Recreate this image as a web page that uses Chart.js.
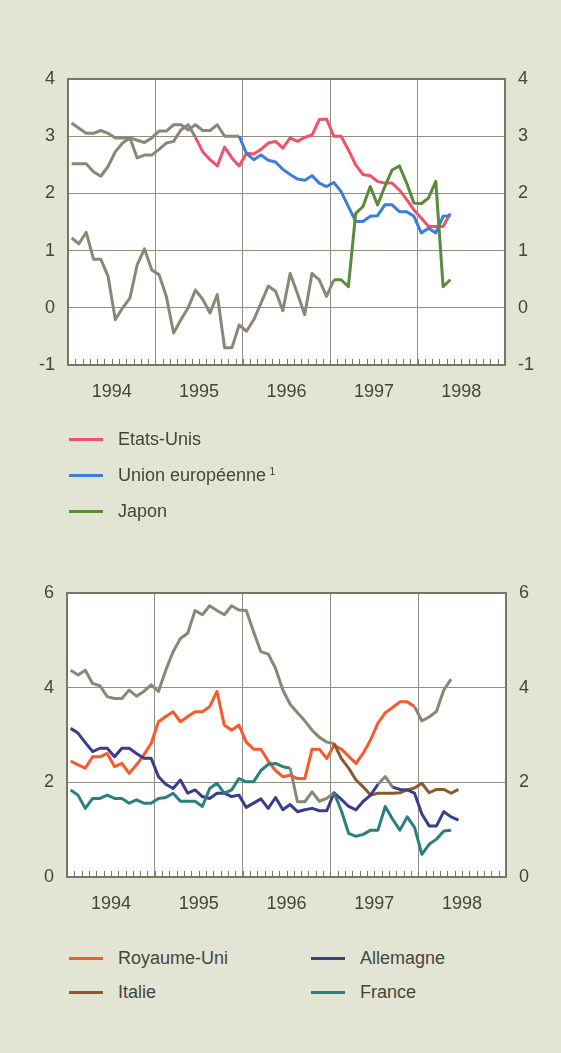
<!DOCTYPE html>
<html lang="fr">
<head>
<meta charset="utf-8">
<title>Inflation</title>
<script src="https://cdn.jsdelivr.net/npm/chart.js@4.4.1/dist/chart.umd.min.js"></script>
<style>
  html, body { margin: 0; padding: 0; }
  body {
    width: 561px; height: 1053px; position: relative; overflow: hidden;
    background: #e2e5d3;
    font-family: "Liberation Sans", Arial, sans-serif; color: #45453d;
  }
  .chart-box { position: absolute; left: 0; width: 561px; height: 420px; }
  .legend-item { position: absolute; height: 20px; font-size: 18px; line-height: 20px; white-space: nowrap; }
  .legend-item .swatch { position: absolute; left: 0; top: 9px; width: 34px; height: 3px; }
  .legend-item .txt { position: absolute; left: 49px; top: 0; }
  .legend-item sup { font-size: 11px; vertical-align: 6px; line-height: 0; margin-left: 3px; }
</style>
</head>
<body>

<div class="chart-box" style="top:0"><canvas id="topChart" width="561" height="420"></canvas></div>
<div class="chart-box" style="top:520px"><canvas id="bottomChart" width="561" height="420"></canvas></div>

<div class="legend-item" style="left:69px; top:429px"><span class="swatch" style="background:#f2506b"></span><span class="txt">Etats-Unis</span></div>
<div class="legend-item" style="left:69px; top:465px"><span class="swatch" style="background:#3d7ed8"></span><span class="txt">Union européenne<sup>1</sup></span></div>
<div class="legend-item" style="left:69px; top:501px"><span class="swatch" style="background:#5b8a3c"></span><span class="txt">Japon</span></div>

<div class="legend-item" style="left:69px; top:948px"><span class="swatch" style="background:#f85a2c"></span><span class="txt">Royaume-Uni</span></div>
<div class="legend-item" style="left:69px; top:982px"><span class="swatch" style="background:#8a5a2e"></span><span class="txt">Italie</span></div>
<div class="legend-item" style="left:311px; top:948px"><span class="swatch" style="background:#3a3d8c"></span><span class="txt">Allemagne</span></div>
<div class="legend-item" style="left:311px; top:982px"><span class="swatch" style="background:#2b7f7c"></span><span class="txt">France</span></div>

<script>
// Monthly values from January 1994, one point per month

const years = ['1994', '1995', '1996', '1997', '1998'];

// top panel
const etatsUnis = [2.52, 2.52, 2.52, 2.38, 2.3, 2.47, 2.73, 2.88, 2.97, 2.62, 2.67, 2.67,
    2.77, 2.88, 2.91, 3.11, 3.2, 2.98, 2.73, 2.59, 2.48, 2.81, 2.62, 2.48,
    2.7, 2.69, 2.77, 2.88, 2.91, 2.79, 2.97, 2.91, 2.98, 3.02, 3.29, 3.3,
    3.0, 3.0, 2.76, 2.5, 2.33, 2.31, 2.21, 2.18, 2.18, 2.06, 1.89, 1.71,
    1.57, 1.42, 1.42, 1.42, 1.65];
const unionEuropeenne = [3.23, 3.14, 3.05, 3.05, 3.1, 3.05, 2.97, 2.97, 2.97, 2.93, 2.89, 2.97,
    3.09, 3.09, 3.2, 3.2, 3.11, 3.2, 3.1, 3.1, 3.2, 3.0, 3.0, 3.0,
    2.7, 2.59, 2.67, 2.58, 2.55, 2.42, 2.33, 2.25, 2.23, 2.31, 2.18, 2.12,
    2.19, 2.03, 1.77, 1.51, 1.51, 1.6, 1.61, 1.8, 1.8, 1.68, 1.68, 1.6,
    1.31, 1.39, 1.31, 1.6, 1.61];
const japon = [1.22, 1.12, 1.32, 0.85, 0.85, 0.55, -0.21, 0.0, 0.17, 0.75, 1.03, 0.66,
    0.58, 0.2, -0.44, -0.21, 0.0, 0.31, 0.15, -0.09, 0.23, -0.7, -0.7, -0.3,
    -0.41, -0.21, 0.08, 0.38, 0.29, -0.05, 0.6, 0.25, -0.12, 0.6, 0.49, 0.2,
    0.49, 0.49, 0.37, 1.65, 1.77, 2.12, 1.8, 2.12, 2.41, 2.48, 2.18, 1.83,
    1.82, 1.92, 2.21, 0.37, 0.49];

// bottom panel
const royaumeUni = [2.45, 2.37, 2.3, 2.54, 2.54, 2.61, 2.33, 2.4, 2.19, 2.37, 2.58, 2.82,
    3.28, 3.39, 3.49, 3.28, 3.39, 3.49, 3.49, 3.6, 3.92, 3.21, 3.1, 3.21,
    2.85, 2.7, 2.7, 2.45, 2.25, 2.12, 2.15, 2.08, 2.08, 2.7, 2.7, 2.5,
    2.79, 2.7, 2.55, 2.4, 2.62, 2.9, 3.25, 3.47, 3.58, 3.7, 3.7, 3.6,
    3.3, 3.38, 3.5, 3.95, 4.18];
const italie = [4.37, 4.27, 4.37, 4.09, 4.04, 3.81, 3.77, 3.77, 3.95, 3.82, 3.92, 4.06,
    3.92, 4.37, 4.76, 5.04, 5.15, 5.63, 5.54, 5.73, 5.63, 5.54, 5.73, 5.64,
    5.63, 5.18, 4.76, 4.71, 4.41, 3.95, 3.65, 3.47, 3.3, 3.1, 2.95, 2.85,
    2.82, 2.5, 2.3, 2.05, 1.9, 1.73, 1.77, 1.77, 1.77, 1.78, 1.84, 1.88,
    1.98, 1.78, 1.85, 1.85, 1.77, 1.85];
const allemagne = [3.14, 3.04, 2.84, 2.65, 2.72, 2.72, 2.54, 2.72, 2.72, 2.61, 2.51, 2.51,
    2.12, 1.96, 1.87, 2.05, 1.77, 1.84, 1.7, 1.66, 1.77, 1.77, 1.7, 1.73,
    1.47, 1.56, 1.65, 1.45, 1.68, 1.42, 1.53, 1.38, 1.42, 1.45, 1.4, 1.4,
    1.78, 1.64, 1.49, 1.42, 1.6, 1.73, 1.96, 2.12, 1.9, 1.85, 1.84, 1.77,
    1.33, 1.08, 1.08, 1.38, 1.27, 1.2];
const france = [1.84, 1.73, 1.45, 1.66, 1.66, 1.73, 1.66, 1.66, 1.56, 1.63, 1.56, 1.56,
    1.66, 1.68, 1.77, 1.6, 1.6, 1.6, 1.49, 1.87, 1.98, 1.77, 1.84, 2.08,
    2.01, 2.01, 2.25, 2.38, 2.4, 2.33, 2.3, 1.59, 1.59, 1.8, 1.6, 1.66,
    1.78, 1.4, 0.92, 0.86, 0.9, 0.99, 0.99, 1.49, 1.22, 0.99, 1.27, 1.05,
    0.48, 0.69, 0.8, 0.97, 0.99];

// stretches drawn in grey: [first segment, end segment)
const greyEtatsUnis = [0, 17];
const greyUnionEuropeenne = [0, 23];
const greyJapon = [0, 36];
const greyRoyaumeUni = [47, 60];
const greyItalie = [0, 36];
const greyAllemagne = [42, 44];
const greyFrance = [30, 36];

const GREY = '#8b8676';
const GRID = '#938f80';
const FRAME = '#7a7565';
const TEXT = '#45453d';
const FONT = { family: '"Liberation Sans", Arial, sans-serif', size: 18 };

function toPoints(values) {
    return values.map((v, i) => ({ x: i + 0.5, y: v }));
}

function makeDataset(label, values, color, grey) {
    return {
        label: label,
        data: toPoints(values),
        borderColor: color,
        borderWidth: 3,
        pointRadius: 0,
        tension: 0,
        borderJoinStyle: 'round',
        segment: {
            borderColor: ctx => (ctx.p0DataIndex >= grey[0] && ctx.p0DataIndex < grey[1]) ? GREY : color
        }
    };
}

// white plot, frame and the small monthly ticks along the bottom
const plotFrame = {
    id: 'plotFrame',
    beforeDraw(chart) {
        const { ctx, chartArea: a } = chart;
        ctx.save();
        ctx.fillStyle = '#ffffff';
        ctx.fillRect(a.left, a.top, a.right - a.left, a.bottom - a.top);
        ctx.restore();
    },
    afterDraw(chart) {
        const { ctx, chartArea: a } = chart;
        const xs = chart.scales.x;
        ctx.save();
        ctx.strokeStyle = FRAME;
        ctx.lineWidth = 1;
        for (let m = 1; m < 60; m++) {
            const px = Math.round(xs.getPixelForValue(m)) + 0.5;
            ctx.beginPath();
            ctx.moveTo(px, a.bottom);
            ctx.lineTo(px, a.bottom - 6);
            ctx.stroke();
        }
        ctx.lineWidth = 2;
        ctx.strokeRect(a.left, a.top, a.right - a.left, a.bottom - a.top);
        ctx.restore();
    }
};

function buildOptions(yMin, yMax, step, padTop, leftW, rightW, xH) {
    const yTicks = { stepSize: step, padding: 13, color: TEXT, font: FONT };
    return {
        responsive: false,
        animation: false,
        layout: { padding: { top: padTop, left: 0, right: 0, bottom: 0 } },
        plugins: { legend: { display: false }, tooltip: { enabled: false } },
        scales: {
            x: {
                type: 'linear',
                min: 0,
                max: 60,
                afterBuildTicks: s => {
                    s.ticks = [];
                    for (let v = 0; v <= 60; v += 6) s.ticks.push({ value: v });
                },
                afterFit: s => { s.height = xH; },
                grid: {
                    drawTicks: false,
                    lineWidth: 1,
                    color: c => (c.tick && c.tick.value % 12 === 0 && c.tick.value > 0 && c.tick.value < 60) ? GRID : 'rgba(0,0,0,0)'
                },
                border: { display: false },
                ticks: {
                    autoSkip: false,
                    maxRotation: 0,
                    padding: 16,
                    color: TEXT,
                    font: FONT,
                    callback: v => (v % 12 === 6 ? years[(v - 6) / 12] : '')
                }
            },
            y: {
                position: 'left',
                min: yMin,
                max: yMax,
                afterFit: s => { s.width = leftW; },
                grid: { drawTicks: false, color: GRID, lineWidth: 1 },
                border: { display: false },
                ticks: yTicks
            },
            y2: {
                position: 'right',
                min: yMin,
                max: yMax,
                afterFit: s => { s.width = rightW; },
                grid: { display: false, drawTicks: false },
                border: { display: false },
                ticks: yTicks
            }
        }
    };
}

new Chart(document.getElementById('topChart'), {
    type: 'line',
    data: {
        datasets: [
            makeDataset('Japon', japon, '#5b8a3c', greyJapon),
            makeDataset('Union européenne', unionEuropeenne, '#3d7ed8', greyUnionEuropeenne),
            makeDataset('Etats-Unis', etatsUnis, '#f2506b', greyEtatsUnis)
        ]
    },
    options: buildOptions(-1, 4, 1, 79, 68, 56, 55),
    plugins: [plotFrame]
});

new Chart(document.getElementById('bottomChart'), {
    type: 'line',
    data: {
        datasets: [
            makeDataset('France', france, '#2b7f7c', greyFrance),
            makeDataset('Allemagne', allemagne, '#3a3d8c', greyAllemagne),
            makeDataset('Italie', italie, '#8a5a2e', greyItalie),
            makeDataset('Royaume-Uni', royaumeUni, '#f85a2c', greyRoyaumeUni)
        ]
    },
    options: buildOptions(0, 6, 2, 73, 67, 55, 63),
    plugins: [plotFrame]
});
</script>
</body>
</html>
